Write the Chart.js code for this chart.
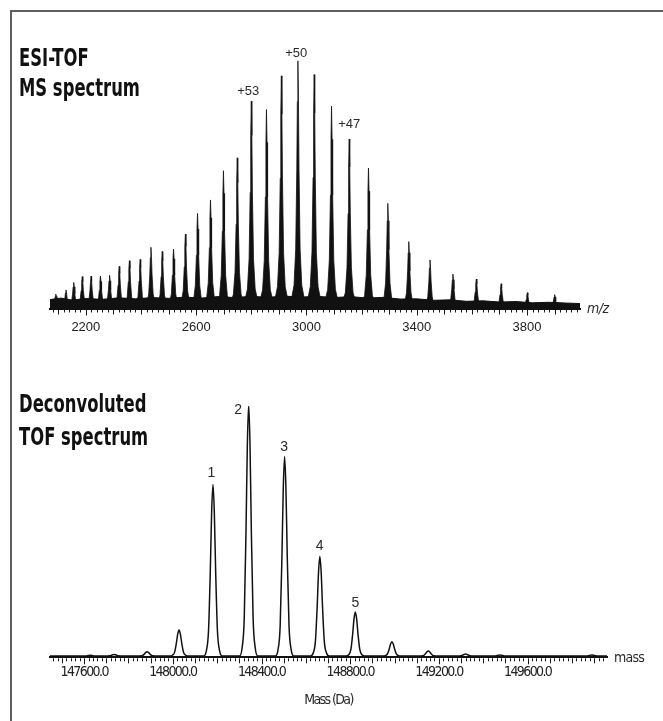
<!DOCTYPE html>
<html lang="en">
<head>
<meta charset="UTF-8">
<title>ESI-TOF MS spectrum and deconvoluted TOF spectrum</title>
<script src="https://cdn.jsdelivr.net/npm/chart.js"></script>
<style>
    html, body {
        margin: 0;
        padding: 0;
        background: #fff;
    }
    body {
        position: relative;
        width: 663px;
        height: 721px;
        overflow: hidden;
    }
    .frame {
        position: absolute;
        left: 10px;
        top: 10px;
        right: 0;
        bottom: -10px;
        border-top: 2px solid #5f5f5f;
        border-left: 2px solid #5f5f5f;
    }
    canvas {
        position: absolute;
        left: 0;
    }
    #msChart { top: 0; }
    #tofChart { top: 340px; }
    .panel-title {
        position: absolute;
        left: 19px;
        z-index: 2;
        font: bold 24px/24px 'Liberation Sans Narrow', 'Arial Narrow', 'DejaVu Sans Condensed', sans-serif;
        color: #111;
        white-space: nowrap;
        transform: scaleX(0.76);
        transform-origin: left center;
    }
</style>
</head>
<body>
    <div class="frame"></div>
    <canvas id="msChart" width="663" height="340"></canvas>
    <canvas id="tofChart" width="663" height="381"></canvas>

    <div class="panel-title" style="top:46px">ESI-TOF</div>
    <div class="panel-title" style="top:76px">MS spectrum</div>
    <div class="panel-title" style="top:392px">Deconvoluted</div>
    <div class="panel-title" style="top:425px">TOF spectrum</div>

<script>
// ---- ESI-TOF MS spectrum (charge state envelope) ----
const msPeakMz  = [2091, 2128, 2156, 2187, 2219, 2253, 2286, 2321, 2358, 2397,
                   2436, 2477, 2518, 2561, 2605, 2652, 2699, 2749, 2800, 2855,
                   2909, 2969, 3028, 3091, 3155, 3225, 3295, 3371, 3448, 3531,
                   3616, 3706, 3801, 3900];
const msPeakInt = [5.8, 7.5, 10.5, 12.9, 13.1, 13.1, 13.4, 17.0, 19.3, 19.8,
                   24.7, 23.0, 24.0, 30.0, 38.4, 43.8, 55.6, 60.8, 83.7, 80.3,
                   93.9, 100, 94.4, 81.7, 68.4, 56.7, 42.4, 27.0, 19.6, 13.9,
                   11.9, 10.0, 6.4, 5.6];
// shape of one peak as seen in the trace (m/z offset, fraction of peak top)
const msShapeOffset = [-24, -14, -8, -4, -2, 0, 2, 4, 8, 14, 24];
const msShapeFrac   = [0.034, 0.094, 0.24, 0.56, 0.835, 1, 0.835, 0.56, 0.24, 0.094, 0.034];
// dark noise band along the baseline
const msNoiseMz    = [2070, 2110, 2150, 2200, 2260, 2320, 2380, 2440, 2500, 2560, 2620, 2680,
                      2740, 2800, 2860, 2920, 2980, 3040, 3100, 3160, 3220, 3280, 3340, 3400,
                      3460, 3520, 3580, 3640, 3700, 3760, 3820, 3880, 3940, 3992];
const msNoiseLevel = [3.6, 4.2, 3.4, 4.0, 3.7, 4.3, 3.9, 4.4, 4.1, 4.6, 4.2, 4.8,
                      4.4, 4.9, 4.5, 5.0, 4.6, 4.9, 4.4, 4.8, 4.2, 4.5, 3.8, 3.9,
                      3.3, 3.5, 2.9, 3.1, 2.6, 2.8, 2.3, 2.5, 2.2, 2.0];
const msTickValues = [2200, 2600, 3000, 3400, 3800];
const msTickLabels = ['2200', '2600', '3000', '3400', '3800'];
const msLabelText = ['+53', '+50', '+47'];
const msLabelMz   = [2789, 2963, 3155];
const msLabelY    = [86, 101.6, 72.7];

// ---- Deconvoluted TOF spectrum ----
const tofPeakMass = [147627, 147735, 147884, 148028, 148181, 148342, 148504,
                     148663, 148823, 148988, 149152, 149320, 149475, 149890];
const tofPeakInt  = [0.3, 0.6, 1.7, 10.4, 68.3, 100, 79.4,
                     39.6, 17.5, 5.7, 2.0, 0.8, 0.4, 0.4];
const tofBaseline = 0.5;
const tofShapeOffset = [-42, -30, -20, -12, -6, 0, 6, 12, 20, 30, 42];
const tofShapeFrac   = [0, 0.03, 0.15, 0.5, 0.84, 1, 0.84, 0.5, 0.15, 0.03, 0];
const tofTickValues = [147600, 148000, 148400, 148800, 149200, 149600];
const tofTickLabels = ['147600.0', '148000.0', '148400.0', '148800.0', '149200.0', '149600.0'];
const tofLabelText = ['1', '2', '3', '4', '5'];
const tofLabelMass = [148174, 148294, 148502, 148662, 148823];
const tofLabelY    = [71.9, 96.7, 82.2, 42.7, 20.1];

const SANS = "'Liberation Sans', Arial, sans-serif";
const NARROW = "'Liberation Sans Narrow', 'Arial Narrow', 'DejaVu Sans Condensed', sans-serif";
const MINOR_STEP = 20;
const MID_STEP = 100;

// tight letter spacing for the condensed axis texts, minor / mid / labelled
// tick marks, peak annotations and the unit at the end of the axis
function axisExtras(cfg) {
    return {
        id: 'axisExtras',
        beforeDraw(chart) {
            chart.ctx.letterSpacing = cfg.spacing;
        },
        afterDraw(chart) {
            const ctx = chart.ctx;
            const area = chart.chartArea;
            const xs = chart.scales.x;
            const ys = chart.scales.y;
            const axisY = area.bottom + 1;

            ctx.save();
            ctx.letterSpacing = '0px';
            ctx.strokeStyle = '#1a1a1a';
            ctx.lineWidth = 1;
            ctx.beginPath();
            xs.ticks.forEach(t => {
                const px = Math.round(xs.getPixelForValue(t.value)) + 0.5;
                let len = 3;
                if (t.value % MID_STEP === 0) len = 5;
                if (cfg.tickValues.includes(t.value)) len = 6;
                ctx.moveTo(px, axisY);
                ctx.lineTo(px, axisY + len);
            });
            ctx.stroke();

            ctx.fillStyle = '#2a2a2a';
            ctx.font = cfg.labelFont;
            ctx.textAlign = 'center';
            ctx.textBaseline = 'alphabetic';
            cfg.labelText.forEach((txt, i) => {
                ctx.fillText(txt, xs.getPixelForValue(cfg.labelX[i]), ys.getPixelForValue(cfg.labelY[i]));
            });

            ctx.font = cfg.unitFont;
            ctx.letterSpacing = cfg.unitSpacing;
            ctx.textAlign = 'left';
            ctx.textBaseline = 'middle';
            ctx.fillText(cfg.unit, area.right + 7, axisY);
            ctx.restore();
            ctx.letterSpacing = '0px';
        }
    };
}

function minorTicks(scale) {
    const ticks = [];
    for (let v = Math.ceil(scale.min / MINOR_STEP) * MINOR_STEP; v <= scale.max; v += MINOR_STEP) {
        ticks.push({value: v});
    }
    scale.ticks = ticks;
}

function xScale(min, max, tickValues, tickLabels, font, padding, height, extra) {
    return Object.assign({
        type: 'linear',
        min: min,
        max: max,
        afterBuildTicks: minorTicks,
        afterFit: (scale) => { scale.height = height; },
        grid: { display: false, drawTicks: false },
        border: { display: true, color: '#111', width: 2 },
        ticks: {
            autoSkip: false,
            maxRotation: 0,
            padding: padding,
            color: '#222',
            font: font,
            callback: (value) => {
                const i = tickValues.indexOf(value);
                return i < 0 ? '' : tickLabels[i];
            }
        }
    }, extra || {});
}

// ---- top chart ----
const msDatasets = [{
    data: msNoiseMz.map((mz, i) => ({x: mz, y: msNoiseLevel[i]})),
    fill: 'origin',
    borderColor: '#111',
    backgroundColor: '#111',
    borderWidth: 1
}].concat(msPeakMz.map((mz, i) => ({
    data: msShapeOffset.map((d, k) => ({x: mz + d, y: msPeakInt[i] * msShapeFrac[k]})),
    fill: 'origin',
    borderColor: '#111',
    backgroundColor: '#111',
    borderWidth: 0.8
})));

new Chart(document.getElementById('msChart'), {
    type: 'line',
    data: { datasets: msDatasets },
    options: {
        responsive: false,
        animation: false,
        devicePixelRatio: 1,
        parsing: false,
        elements: { point: { radius: 0 }, line: { tension: 0 } },
        layout: { padding: { left: 50, right: 83, top: 60.7, bottom: 0 } },
        plugins: { legend: { display: false }, tooltip: { enabled: false } },
        scales: {
            x: xScale(2070, 3992, msTickValues, msTickLabels, { family: SANS, size: 13 }, 10.9, 31.5),
            y: { display: false, min: 0, max: 100 }
        }
    },
    plugins: [axisExtras({
        spacing: '0px',
        tickValues: msTickValues,
        labelText: msLabelText, labelX: msLabelMz, labelY: msLabelY,
        labelFont: '13px ' + SANS,
        unit: 'm/z', unitFont: 'italic 14px ' + NARROW, unitSpacing: '-0.5px'
    })]
});

// ---- bottom chart ----
const tofPoints = [{x: 147446, y: tofBaseline}];
tofPeakMass.forEach((m, i) => {
    tofShapeOffset.forEach((d, k) => {
        tofPoints.push({x: m + d, y: tofBaseline + tofPeakInt[i] * tofShapeFrac[k]});
    });
});
tofPoints.push({x: 149958, y: tofBaseline});

new Chart(document.getElementById('tofChart'), {
    type: 'line',
    data: {
        datasets: [{
            data: tofPoints,
            fill: false,
            borderColor: '#111',
            borderWidth: 1.5,
            cubicInterpolationMode: 'monotone'
        }]
    },
    options: {
        responsive: false,
        animation: false,
        devicePixelRatio: 1,
        parsing: false,
        elements: { point: { radius: 0 } },
        layout: { padding: { left: 50, right: 56, top: 66, bottom: 0 } },
        plugins: { legend: { display: false }, tooltip: { enabled: false } },
        scales: {
            x: xScale(147446, 149958, tofTickValues, tofTickLabels, { family: NARROW, size: 14 }, 7.1, 63.7, {
                title: {
                    display: true,
                    text: 'Mass (Da)',
                    color: '#2a2a2a',
                    font: { family: NARROW, size: 14 },
                    padding: { top: 0, bottom: 12.6 }
                }
            }),
            y: { display: false, min: 0, max: 100 }
        }
    },
    plugins: [axisExtras({
        spacing: '-1.6px',
        tickValues: tofTickValues,
        labelText: tofLabelText, labelX: tofLabelMass, labelY: tofLabelY,
        labelFont: '14px ' + SANS,
        unit: 'mass', unitFont: '14px ' + NARROW, unitSpacing: '-0.8px'
    })]
});
</script>
</body>
</html>
